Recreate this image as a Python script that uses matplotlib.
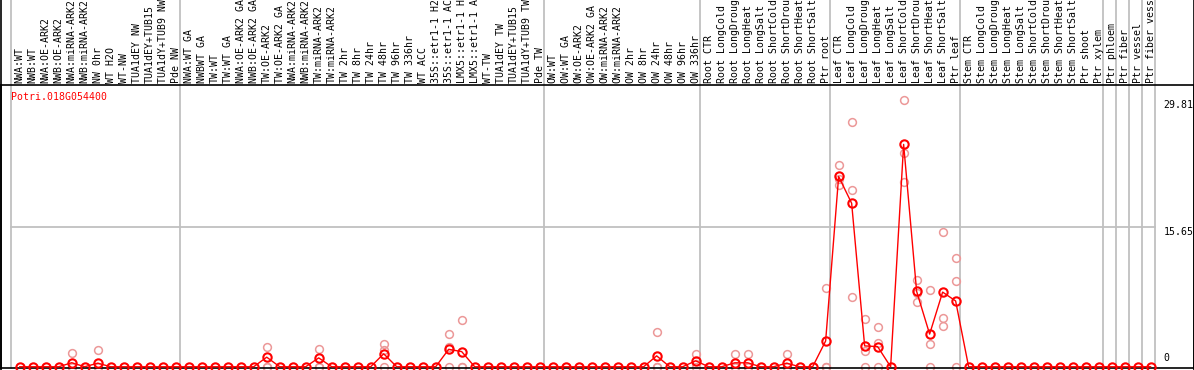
import matplotlib
matplotlib.use('Agg')
import matplotlib.pyplot as plt
from matplotlib.lines import Line2D
import matplotlib.transforms as mtransforms

# sample labels, in plotting order (the header only has room for 14 characters)
labels = [
    'NWA:WT', 'NWB:WT', 'NWA:OE-ARK2', 'NWB:OE-ARK2', 'NWA:miRNA-ARK2', 'NWB:miRNA-ARK2',
    'NW 0hr', 'WT H2O', 'WT-NW', 'TUA1dEY NW', 'TUA1dEY+TUB15 NW', 'TUA1dY+TUB9 NW', 'Pde NW',
    'NWA:WT GA', 'NWBWT GA', 'TW:WT', 'TW:WT GA', 'NWA:OE-ARK2 GA', 'NWB:OE-ARK2 GA',
    'TW:OE-ARK2', 'TW:OE-ARK2 GA', 'NWA:miRNA-ARK2', 'NWB:miRNA-ARK2', 'TW:miRNA-ARK2',
    'TW:miRNA-ARK2', 'TW 2hr', 'TW 8hr', 'TW 24hr', 'TW 48hr', 'TW 96hr', 'TW 336hr', 'WT ACC',
    '35S::etr1-1 H2O', '35S::etr1-1 ACC', 'LMX5::etr1-1 H2O', 'LMX5::etr1-1 ACC', 'WT-TW',
    'TUA1dEY TW', 'TUA1dEY+TUB15 TW', 'TUA1dY+TUB9 TW', 'Pde TW',
    'OW:WT', 'OW:WT GA', 'OW:OE-ARK2', 'OW:OE-ARK2 GA', 'OW:miRNA-ARK2', 'OW:miRNA-ARK2',
    'OW 2hr', 'OW 8hr', 'OW 24hr', 'OW 48hr', 'OW 96hr', 'OW 336hr',
    'Root CTR', 'Root LongCold', 'Root LongDrought', 'Root LongHeat', 'Root LongSalt',
    'Root ShortCold', 'Root ShortDrought', 'Root ShortHeat', 'Root ShortSalt', 'Ptr root',
    'Leaf CTR', 'Leaf LongCold', 'Leaf LongDrought', 'Leaf LongHeat', 'Leaf LongSalt',
    'Leaf ShortCold', 'Leaf ShortDrought', 'Leaf ShortHeat', 'Leaf ShortSalt', 'Ptr leaf',
    'Stem CTR', 'Stem LongCold', 'Stem LongDrought', 'Stem LongHeat', 'Stem LongSalt',
    'Stem ShortCold', 'Stem ShortDrought', 'Stem ShortHeat', 'Stem ShortSalt', 'Ptr shoot',
    'Ptr xylem', 'Ptr phloem', 'Ptr fiber', 'Ptr vessel', 'Ptr fiber vessel',
]
max_chars = 14

# number of samples in each block (separators drawn after each)
group_sizes = [13, 28, 12, 10, 10, 11, 1, 1, 1, 1]

# mean expression per sample (1-based column -> value, others are 0)
mean_nonzero = {
    5: 0.45, 7: 0.40, 20: 1.07, 24: 0.99, 29: 1.45, 34: 1.95, 35: 1.69,
    50: 1.22, 53: 0.66, 56: 0.44, 57: 0.44, 60: 0.40, 63: 2.88,
    64: 21.26, 65: 18.27, 66: 2.33, 67: 2.25, 69: 24.84, 70: 8.42,
    71: 3.65, 72: 8.34, 73: 7.35,
}

# replicate values
replicates = {
    5: [1.55, 0, 0], 7: [1.88, 0, 0], 20: [2.21, 0, 0], 24: [2.03, 0, 0],
    29: [2.50, 1.90, 0], 34: [3.69, 2.21, 0], 35: [5.20, 0, 0], 50: [3.88, 0, 0],
    53: [1.48, 0.30, 0], 56: [1.48, 0, 0], 57: [1.37, 0, 0], 60: [1.37, 0, 0],
    63: [8.75, 0, 0], 64: [22.50, 21.00, 20.30], 65: [27.35, 19.75, 7.75],
    66: [5.35, 1.77, 0], 67: [4.47, 2.62, 0], 69: [29.81, 23.92, 20.60],
    70: [9.71, 8.23, 7.20], 71: [8.53, 2.55, 0], 72: [15.06, 5.46, 4.54],
    73: [12.18, 9.63, 0],
}

ytick_values = [0, 15.65, 29.81]
gene_id = 'Potri.018G054400'

n = len(labels)
xs = list(range(1, n + 1))
means = [mean_nonzero.get(i, 0.0) for i in xs]

W, H = 1194, 370
fig = plt.figure(figsize=(W / 100, H / 100), dpi=100)
ax_top, ax_bot = 85, 368
ax = fig.add_axes([0.5 / W, (H - ax_bot) / H, 1193 / W, (ax_bot - ax_top) / H])
ax_h = ax_bot - ax_top

ax.set_xlim(-0.48, 91.3)
ax.set_ylim(-0.14, 31.48)
ax.set_xticks([])
ax.set_yticks([])
for s in ax.spines.values():
    s.set_color('black')
    s.set_linewidth(1.2)

mono = 'DejaVu Sans Mono'
fs = 7.1

# group separators
edges = [0]
for g in group_sizes:
    edges.append(edges[-1] + g)
for e in edges:
    ax.axvline(e + 0.35, ymin=0, ymax=1 + (ax_top + 2) / ax_h, color='#c0c0c0',
               lw=1.3, clip_on=False, zorder=1)

# horizontal grid line at middle value
ax.plot([0.35, edges[-1] + 0.35], [ytick_values[1]] * 2, color='#c0c0c0', lw=1.3, zorder=1)

# replicate points
for col, vals in replicates.items():
    ax.plot([col] * len(vals), vals, 'o', ms=5.6, mfc='none', mec='#ec9898', mew=1.1,
            clip_on=False, zorder=2)

# mean line + markers
ax.plot(xs, means, '-', color='red', lw=1.0, zorder=3, clip_on=False)
ax.plot(xs, means, 'o', ms=6.0, mfc='none', mec='red', mew=1.5, zorder=4, clip_on=False)

# rotated sample labels above the plot
trans = mtransforms.blended_transform_factory(ax.transData, ax.transAxes)
for x, lab in zip(xs, labels):
    ax.text(x, 1 + 2 / ax_h, lab[:max_chars].rstrip(), transform=trans, rotation=90,
            ha='center', va='bottom', fontsize=fs, family=mono, color='black', clip_on=False)

# gene id
ax.text(10 / 1193, 1 - 12 / ax_h, gene_id, transform=ax.transAxes, color='red',
        fontsize=fs, family=mono, ha='left', va='center')

# y values on the right
ytrans = mtransforms.blended_transform_factory(ax.transAxes, ax.transData)
xlab = 1163 / 1193
ax.text(xlab, ytick_values[2], f'{ytick_values[2]:g}', transform=ytrans,
        fontsize=fs, family=mono, ha='left', va='top')
ax.text(xlab, ytick_values[1], f'{ytick_values[1]:g}', transform=ytrans,
        fontsize=fs, family=mono, ha='left', va='top')
ax.text(xlab, 0.4, f'{ytick_values[0]:g}', transform=ytrans,
        fontsize=fs, family=mono, ha='left', va='bottom')

# outer frame lines over the full height
fig.add_artist(Line2D([0.5 / W, 0.5 / W], [0, 1], color='black', lw=1.2, transform=fig.transFigure))
fig.add_artist(Line2D([1193.5 / W, 1193.5 / W], [0, 1], color='black', lw=1.2, transform=fig.transFigure))

fig.savefig('out.png', dpi=100)
plt.close(fig)
